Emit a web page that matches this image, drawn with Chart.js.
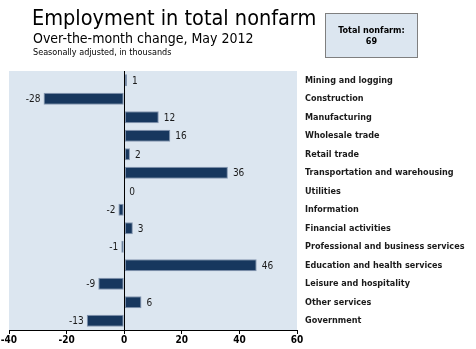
<!DOCTYPE html>
<html>
<head>
<meta charset="utf-8">
<script src="https://cdn.jsdelivr.net/npm/chart.js@4"></script>
<style>
  body { margin: 0; background: #fff; }
  #wrap { position: relative; width: 476px; height: 349px; overflow: hidden; font-family: Tahoma, "DejaVu Sans Condensed", "DejaVu Sans", sans-serif; color: #000; }
  #wrap canvas { position: absolute; left: 0; top: 0; }
  .t1 { position: absolute; left: 32px; top: 5px; font-size: 21.5px; white-space: nowrap; }
  .t2 { position: absolute; left: 33px; top: 30px; font-size: 14px; white-space: nowrap; }
  .t3 { position: absolute; left: 33px; top: 47px; font-size: 9px; white-space: nowrap; }
  .box { position: absolute; left: 325px; top: 13px; width: 91px; height: 43px; background: #dce6f0; border: 1px solid #7f7f7f;
         font-size: 9px; font-weight: bold; text-align: center; line-height: 11px; box-sizing: content-box; }
  .box div { padding-top: 11px; }
</style>
</head>
<body>
<div id="wrap">
  <canvas id="jobsChart" width="476" height="349"></canvas>
  <div class="t1">Employment in total nonfarm</div>
  <div class="t2">Over-the-month change, May 2012</div>
  <div class="t3">Seasonally adjusted, in thousands</div>
  <div class="box"><div id="totalText"></div></div>
</div>
<script>
const categories = ["Mining and logging", "Construction", "Manufacturing", "Wholesale trade", "Retail trade",
  "Transportation and warehousing", "Utilities", "Information", "Financial activities",
  "Professional and business services", "Education and health services", "Leisure and hospitality",
  "Other services", "Government"];
const changes = [1, -28, 12, 16, 2, 36, 0, -2, 3, -1, 46, -9, 6, -13];
const xTicks = [-40, -20, 0, 20, 40, 60];
const totalNonfarm = 69;

document.getElementById("totalText").innerHTML = "Total nonfarm:<br>" + totalNonfarm;

const fontFamily = 'Tahoma, "DejaVu Sans Condensed", "DejaVu Sans", sans-serif';

// light blue plot area
const plotBackground = {
  id: 'plotBackground',
  beforeDraw(chart) {
    const a = chart.chartArea, ctx = chart.ctx;
    ctx.save();
    ctx.fillStyle = '#dce6f0';
    ctx.fillRect(a.left, a.top, a.right - a.left, a.bottom - a.top);
    ctx.restore();
  }
};

// zero line + value labels
const barExtras = {
  id: 'barExtras',
  afterDatasetsDraw(chart) {
    const ctx = chart.ctx, a = chart.chartArea;
    const x0 = chart.scales.x.getPixelForValue(0);
    ctx.save();
    ctx.strokeStyle = '#000';
    ctx.lineWidth = 1;
    ctx.beginPath();
    ctx.moveTo(Math.round(x0) + 0.5, a.top);
    ctx.lineTo(Math.round(x0) + 0.5, a.bottom);
    ctx.stroke();

    ctx.font = '10px ' + fontFamily;
    ctx.fillStyle = '#1a1a1a';
    ctx.textBaseline = 'middle';
    chart.getDatasetMeta(0).data.forEach((bar, i) => {
      const v = changes[i];
      if (v < 0) {
        ctx.textAlign = 'right';
        ctx.fillText(String(v), bar.x - 3, bar.y + 1);
      } else {
        ctx.textAlign = 'left';
        ctx.fillText(String(v), bar.x + 5, bar.y + 1);
      }
    });
    ctx.restore();
  }
};

new Chart(document.getElementById("jobsChart"), {
  type: 'bar',
  data: {
    labels: categories,
    datasets: [{
      data: changes,
      backgroundColor: '#17375e',
      borderColor: '#8597b0',
      borderWidth: 1,
      borderSkipped: false,
      categoryPercentage: 1,
      barPercentage: 0.66
    }]
  },
  options: {
    indexAxis: 'y',
    responsive: false,
    animation: false,
    layout: { padding: { left: 9, top: 71, right: 0, bottom: 0 } },
    scales: {
      x: {
        min: -40,
        max: 60,
        afterBuildTicks(scale) { scale.ticks = xTicks.map(v => ({ value: v })); },
        afterFit(scale) { scale.height = 19; },
        border: { display: true, color: '#000' },
        grid: { drawOnChartArea: false, tickLength: 4, color: '#000' },
        ticks: { color: '#000', padding: 0, font: { family: fontFamily, size: 10, weight: 'bold' } }
      },
      y: {
        position: 'right',
        afterFit(scale) { scale.width = 179; },
        border: { display: false },
        grid: { display: false, drawTicks: false },
        ticks: { color: '#1a1a1a', padding: 8, font: { family: fontFamily, size: 9, weight: 'bold' } }
      }
    },
    plugins: {
      legend: { display: false },
      tooltip: { enabled: false }
    }
  },
  plugins: [plotBackground, barExtras]
});
</script>
</body>
</html>
